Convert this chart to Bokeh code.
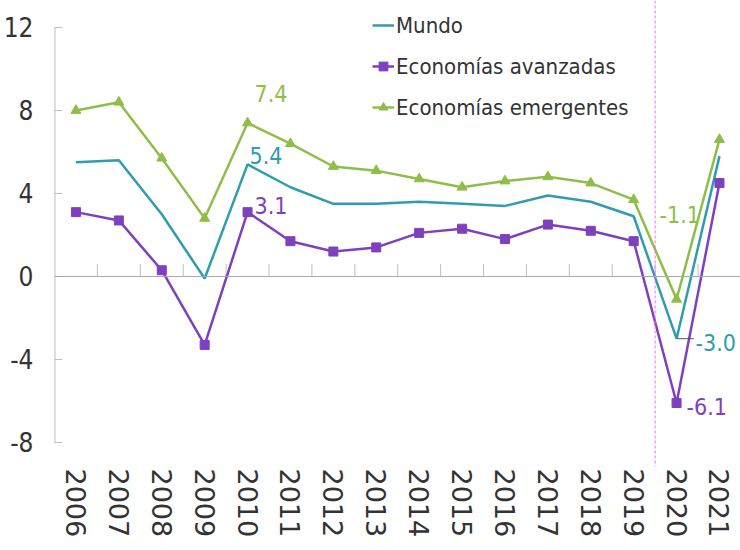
from bokeh.plotting import figure
from bokeh.models import Range1d, FixedTicker, Span, Legend, LegendItem
from bokeh.embed import file_html
from bokeh.resources import INLINE
from bokeh.core.properties import value

years = ["2006", "2007", "2008", "2009", "2010", "2011", "2012", "2013",
         "2014", "2015", "2016", "2017", "2018", "2019", "2020", "2021"]
mundo = [5.5, 5.6, 3.0, -0.1, 5.4, 4.3, 3.5, 3.5, 3.6, 3.5, 3.4, 3.9, 3.6, 2.9, -3.0, 5.8]
avanzadas = [3.1, 2.7, 0.3, -3.3, 3.1, 1.7, 1.2, 1.4, 2.1, 2.3, 1.8, 2.5, 2.2, 1.7, -6.1, 4.5]
emergentes = [8.0, 8.4, 5.7, 2.8, 7.4, 6.4, 5.3, 5.1, 4.7, 4.3, 4.6, 4.8, 4.5, 3.7, -1.1, 6.6]
y_ticks = [-8, -4, 0, 4, 8, 12]
series_names = ["Mundo", "Economías avanzadas", "Economías emergentes"]

C_MUNDO = "#2F9DAE"
C_AV = "#7E40BE"
C_EM = "#8FBE48"
NARROW = "DejaVu Sans Condensed"

xs = list(range(1, len(years) + 1))

p = figure(width=740, height=550, output_backend="svg", toolbar_location=None,
           x_range=Range1d(0.5, 16.49), y_range=Range1d(-9.16, 13.3))
p.min_border_top = 0
p.min_border_left = 54
p.min_border_right = 0
p.min_border_bottom = 84
p.outline_line_color = None
p.grid.visible = False
p.background_fill_color = "white"
p.border_fill_color = "white"

# y axis
ya = p.yaxis[0]
ya.ticker = FixedTicker(ticks=y_ticks)
ya.major_label_overrides = {t: str(t) for t in y_ticks}
ya.axis_line_color = None
ya.major_tick_in = 8
ya.major_tick_out = 0
ya.minor_tick_line_color = None
ya.major_tick_line_color = "#BFBFBF"
ya.major_label_standoff = 21
ya.major_label_text_font = NARROW
ya.major_label_text_font_size = "26px"
ya.major_label_text_color = "#333333"

# x axis
xa = p.xaxis[0]
xa.ticker = FixedTicker(ticks=xs)
xa.major_label_overrides = {x: y for x, y in zip(xs, years)}
xa.axis_line_color = None
xa.major_tick_in = 0
xa.major_tick_out = 0
xa.minor_tick_line_color = None
xa.major_label_orientation = "vertical"
xa.major_label_standoff = 2
xa.major_label_text_font = "DejaVu Sans"
xa.major_label_text_font_size = "27px"
xa.major_label_text_color = "#333333"

# y axis line (from -8 to 12)
p.segment(x0=[0.5], y0=[y_ticks[0]], x1=[0.5], y1=[y_ticks[-1]],
          line_color="#BFBFBF", line_width=2)
# zero line
p.add_layout(Span(location=0, dimension="width", line_color="#A6A6A6", line_width=1))
# category tick marks on zero line
bounds = [x + 0.5 for x in xs[:-1]]
p.segment(x0=bounds, y0=[0] * len(bounds), x1=bounds, y1=[0.6] * len(bounds),
          line_color="#BFBFBF", line_width=1)
# vertical dashed separator between 2019 and 2020
p.add_layout(Span(location=xs[years.index("2020")] - 0.5, dimension="height",
                  line_color="#FF66FF", line_width=1, line_dash="3 2"))

r_m = p.line(xs, mundo, line_color=C_MUNDO, line_width=2.5)
r_a = p.line(xs, avanzadas, line_color=C_AV, line_width=2.5)
s_a = p.scatter(xs, avanzadas, marker="square", size=9, fill_color=C_AV, line_color=C_AV)
r_e = p.line(xs, emergentes, line_color=C_EM, line_width=2.5)
s_e = p.scatter(xs, emergentes, marker="triangle", size=10, fill_color=C_EM, line_color=C_EM)

# leader line for -3.0
i20 = years.index("2020")
p.segment(x0=[xs[i20]], y0=[mundo[i20]], x1=[xs[i20] + 0.4], y1=[mundo[i20]],
          line_color="#555555", line_width=1)

# data labels
i10 = years.index("2010")
lab_x = [xs[i10], xs[i10], xs[i10], xs[i20], xs[i20], xs[i20]]
lab_y = [emergentes[i10], mundo[i10], avanzadas[i10], emergentes[i20], mundo[i20], avanzadas[i20]]
lab_t = ["%.1f" % v for v in lab_y]
lab_c = [C_EM, C_MUNDO, C_AV, C_EM, C_MUNDO, C_AV]
lab_dx = [7, 2, 7, -17, 19, 10]
lab_dy = [-29, -9, -7, -85, 4, 3]
p.text(x=lab_x, y=lab_y, text=lab_t, text_color=lab_c, x_offset=lab_dx, y_offset=lab_dy,
       text_align="left", text_baseline="middle", text_font=value(NARROW),
       text_font_size="23px")

legend = Legend(items=[
    LegendItem(label=series_names[0], renderers=[r_m]),
    LegendItem(label=series_names[1], renderers=[r_a, s_a]),
    LegendItem(label=series_names[2], renderers=[r_e, s_e]),
], location=(318, 342))
legend.background_fill_alpha = 0
legend.border_line_color = None
legend.padding = 0
legend.margin = 0
legend.spacing = 7
legend.glyph_width = 22
legend.glyph_height = 34
legend.label_height = 34
legend.label_standoff = 2
legend.label_text_font = NARROW
legend.label_text_font_size = "22px"
legend.label_text_color = "#333333"
p.add_layout(legend, "center")

open("out.html", "w").write(file_html(p, INLINE))
